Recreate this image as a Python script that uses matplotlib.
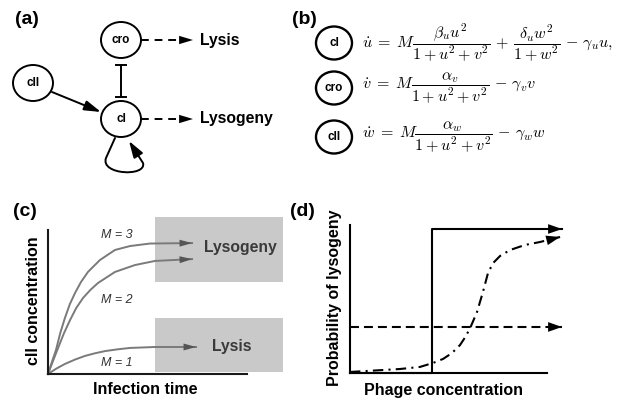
import matplotlib
matplotlib.use("Agg")
import matplotlib.pyplot as plt
from matplotlib.patches import Ellipse, FancyArrowPatch, Rectangle
from matplotlib.path import Path

plt.rcParams['font.family'] = ['Liberation Sans', 'DejaVu Sans']
plt.rcParams['mathtext.fontset'] = 'cm'

W, H = 628, 400

# ---- (a) network (pixel layout) ----
node_names = ['cro', 'cI', 'cII']
node_x = [121, 121, 33]
node_y = [40, 119, 83]
outcome_names = ['Lysis', 'Lysogeny']
outcome_y = [40, 119]

# ---- (b) model equations ----
eq_nodes = ['cI', 'cro', 'cII']
eq_y = [43, 88, 137]
eq_text = [
    r'$\dot{u} \;=\; M\dfrac{\beta_u u^2}{1+u^2+v^2} \,+\, \dfrac{\delta_u w^2}{1+w^2} \,-\, \gamma_u u,$',
    r'$\dot{v} \;=\; M\dfrac{\alpha_v}{1+u^2+v^2} \,-\, \gamma_v v$',
    r'$\dot{w} \;=\; M\dfrac{\alpha_w}{1+u^2+v^2} \,-\, \gamma_w w$',
]

# ---- (c) cII concentration vs infection time ----
t_m3 = [0, 0.17, 0.34, 0.52, 0.72, 0.93, 1.15, 1.40, 1.70, 2.21, 2.85, 3.49, 4.34, 6.13]
c_m3 = [0, 0.78, 1.53, 2.60, 3.57, 4.45, 5.16, 5.85, 6.50, 7.26, 7.90, 8.15, 8.31, 8.34]
t_m2 = [0, 0.21, 0.43, 0.68, 0.94, 1.20, 1.49, 1.80, 2.13, 2.85, 3.70, 4.55, 6.13]
c_m2 = [0, 0.82, 1.66, 2.60, 3.44, 4.20, 4.84, 5.35, 5.80, 6.50, 6.94, 7.20, 7.32]
t_m1 = [0, 0.35, 0.72, 1.15, 1.57, 2.00, 2.43, 2.95, 3.49, 4.55, 6.30]
c_m1 = [0, 0.34, 0.64, 0.92, 1.15, 1.32, 1.46, 1.57, 1.66, 1.72, 1.72]
m_labels = ['M = 3', 'M = 2', 'M = 1']
m_label_y = [8.85, 4.71, 0.70]

# ---- (d) probability of lysogeny vs phage concentration ----
step_x = [0, 3.87, 3.87, 10]
step_y = [0, 0, 0.973, 0.973]
flat_x = [0, 10]
flat_y = [0.311, 0.311]
sig_x = [0, 2.36, 3.30, 3.92, 4.39, 4.81, 5.19, 5.47, 5.71, 5.99, 6.27, 6.51, 6.75,
         7.08, 7.55, 8.25, 8.96, 9.91]
sig_y = [0.007, 0.027, 0.041, 0.068, 0.095, 0.135, 0.189, 0.250, 0.318, 0.412, 0.547,
         0.676, 0.743, 0.791, 0.831, 0.865, 0.885, 0.919]

fig = plt.figure(figsize=(6.28, 4.0), dpi=100)
ax = fig.add_axes([0, 0, 1, 1])
ax.set_xlim(0, W)
ax.set_ylim(H, 0)
ax.axis('off')


def head(a, p0, p1, color='black', ms=10, hl=1.0, hw=0.3):
    a.annotate('', xy=p1, xytext=p0,
               arrowprops=dict(arrowstyle='-|>,head_length=%g,head_width=%g' % (hl, hw),
                               lw=0, fc=color, ec=color, mutation_scale=ms,
                               shrinkA=0, shrinkB=0))


# panel letters
for lab, x, y in [('(a)', 15, 20), ('(b)', 292, 20), ('(c)', 13, 211), ('(d)', 290, 211)]:
    ax.text(x, y, lab, fontsize=14, fontweight='bold', ha='left', va='center')

# ---- (a) ----
for name, x, y in zip(node_names, node_x, node_y):
    ax.add_patch(Ellipse((x, y), 40, 36, fc='white', ec='black', lw=1.4, zorder=3))
    ax.text(x, y, name, fontsize=8.5, fontweight='bold', ha='center', va='center', zorder=4)

# cII -> cI activation
ax.add_patch(FancyArrowPatch((52, 92), (101, 112),
                             arrowstyle='-|>,head_length=1.0,head_width=0.3',
                             mutation_scale=10, lw=1.4, color='black',
                             shrinkA=0, shrinkB=0))
# cro -| cI mutual repression
ax.plot([121, 121], [65, 97], color='black', lw=1.4)
ax.plot([116, 126], [65, 65], color='black', lw=1.4)
ax.plot([116, 126], [97, 97], color='black', lw=1.4)

# cI self activation loop
loop = Path([(115, 138), (106, 158), (100, 175), (147, 177), (143, 163), (129, 141)],
            [Path.MOVETO, Path.LINETO, Path.CURVE4, Path.CURVE4, Path.CURVE4, Path.LINETO])
ax.add_patch(FancyArrowPatch(path=loop, arrowstyle='-|>,head_length=1.0,head_width=0.32',
                             mutation_scale=10, lw=1.4, color='black', zorder=2))

# dashed arrows to outcomes
for name, y in zip(outcome_names, outcome_y):
    ax.plot([141, 182], [y, y], color='black', lw=1.4, ls=(0, (4, 3)))
    head(ax, (178, y), (193, y))
    ax.text(200, y, name, fontsize=11.3, fontweight='bold', ha='left', va='center')

# ---- (b) ----
for name, y, eq in zip(eq_nodes, eq_y, eq_text):
    ax.add_patch(Ellipse((334, y), 36, 33, fc='white', ec='black', lw=1.7))
    ax.text(334, y, name, fontsize=8.5, fontweight='bold', ha='center', va='center')
    ax.text(362, y, eq, fontsize=11.5, ha='left', va='center')

# ---- (c) ----
axc = fig.add_axes([48 / W, 26 / H, 235 / W, 157 / H])
axc.set_xlim(0, 10)
axc.set_ylim(0, 10)
axc.patch.set_alpha(0)
axc.set_xticks([])
axc.set_yticks([])
for s in ['top', 'right']:
    axc.spines[s].set_visible(False)
for s in ['left', 'bottom']:
    axc.spines[s].set_linewidth(1.5)
    axc.spines[s].set_color('#1a1a1a')
axc.spines['left'].set_bounds(0, 9.17)
axc.spines['bottom'].set_bounds(0, 8.47)

axc.add_patch(Rectangle((4.55, 5.86), 5.45, 4.14, fc='#c9c9c9', ec='none', clip_on=False, zorder=0))
axc.add_patch(Rectangle((4.55, 0.13), 5.45, 3.44, fc='#c9c9c9', ec='none', clip_on=False, zorder=0))
axc.text(8.17, 8.03, 'Lysogeny', fontsize=11.3, fontweight='bold', color='#3a3a3a', ha='center', va='center')
axc.text(7.83, 1.72, 'Lysis', fontsize=11.3, fontweight='bold', color='#3a3a3a', ha='center', va='center')

gray = '#7a7a7a'
for tx, cy in [(t_m3, c_m3), (t_m2, c_m2), (t_m1, c_m1)]:
    axc.plot(tx, cy, color=gray, lw=1.4, clip_on=False, solid_joinstyle='round')
    head(axc, (tx[-2], cy[-2]), (tx[-1], cy[-1]), color='#555555', hl=0.9, hw=0.25)
for lab, y in zip(m_labels, m_label_y):
    axc.text(2.94, y, lab, fontsize=9, style='italic', color='#333333', ha='center', va='center')

ax.text(33, 301, 'cII concentration', fontsize=11.5, fontweight='bold', rotation=90,
        ha='center', va='center')
ax.text(145, 390, 'Infection time', fontsize=11.5, fontweight='bold', ha='center', va='center')

# ---- (d) ----
axd = fig.add_axes([350 / W, 27 / H, 212 / W, 148 / H])
axd.set_xlim(0, 10)
axd.set_ylim(0, 1)
axd.patch.set_alpha(0)
axd.set_xticks([])
axd.set_yticks([])
for s in ['top', 'right']:
    axd.spines[s].set_visible(False)
for s in ['left', 'bottom']:
    axd.spines[s].set_linewidth(1.5)
axd.spines['bottom'].set_bounds(0, 9.29)

axd.plot(step_x, step_y, color='black', lw=1.5, clip_on=False)
head(axd, (step_x[-2], step_y[-2]), (step_x[-1], step_y[-1]), hl=1.0, hw=0.35)
axd.plot(flat_x, flat_y, color='black', lw=1.5, ls=(0, (4.3, 2.4)), clip_on=False)
head(axd, (flat_x[-2], flat_y[-2]), (flat_x[-1], flat_y[-1]), hl=1.0, hw=0.35)
axd.plot(sig_x, sig_y, color='black', lw=1.5, ls=(0, (5, 2.5, 1, 2.5)), clip_on=False)
head(axd, (sig_x[-2], sig_y[-2]), (sig_x[-1], sig_y[-1]), hl=1.0, hw=0.35)

ax.text(335, 298, 'Probability of lysogeny', fontsize=11.5, fontweight='bold', rotation=90,
        ha='center', va='center')
ax.text(443, 390, 'Phage concentration', fontsize=11.5, fontweight='bold', ha='center', va='center')

fig.savefig('out.png', dpi=100)
